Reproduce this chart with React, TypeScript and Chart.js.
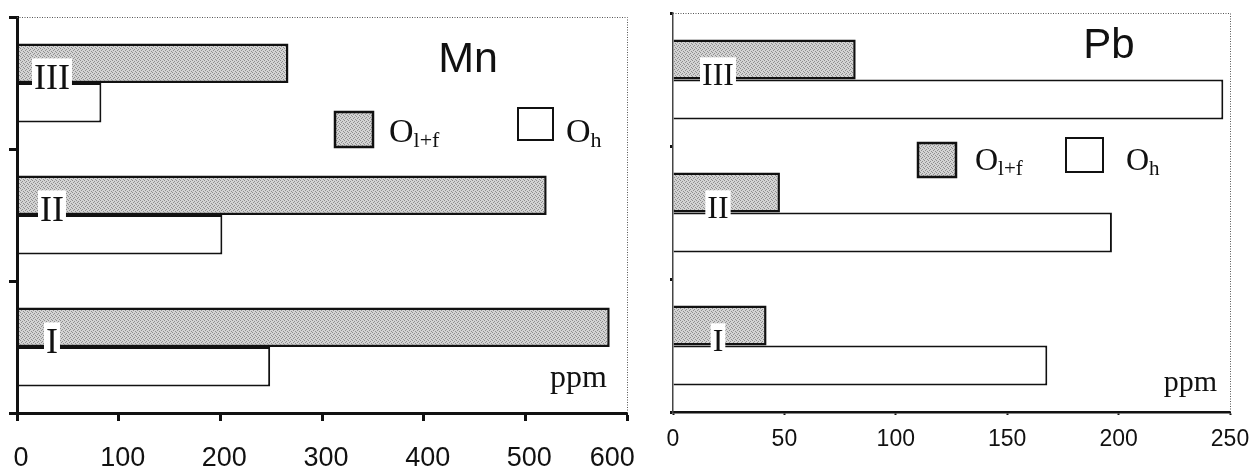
import React, { useEffect, useRef } from "react";
import { Chart, registerables } from "chart.js";

Chart.register(...registerables);

// ---- data ----
const categories = ["III", "II", "I"];
const seriesNames = ["O", "O"];
const seriesSubs = ["l+f", "h"];

const mnOlf = [267, 521, 583];
const mnOh = [83, 202, 249];
const pbOlf = [82, 48, 42];
const pbOh = [247, 197, 168];

const mnTickValues = [0, 100, 200, 300, 400, 500, 600];
const pbTickValues = [0, 50, 100, 150, 200, 250];

const mnTitle = "Mn";
const pbTitle = "Pb";
const unitLabel = "ppm";

function makeStipple(): CanvasPattern | string {
  const c = document.createElement("canvas");
  c.width = 4;
  c.height = 4;
  const g = c.getContext("2d");
  if (!g) return "#c4c4c4";
  g.fillStyle = "#d3d3d3";
  g.fillRect(0, 0, 4, 4);
  g.fillStyle = "#8e8e8e";
  [[0, 0], [2, 1], [1, 2], [3, 3]].forEach(([x, y]) => g.fillRect(x, y, 1, 1));
  return g.createPattern(c, "repeat") || "#c4c4c4";
}

function zeroPadding(s: any) {
  s.paddingTop = 0;
  s.paddingBottom = 0;
  s.paddingLeft = 0;
  s.paddingRight = 0;
}

const decorPlugin = {
  id: "decor",
  afterDraw(chart: any, _args: any, opts: any) {
    const ctx = chart.ctx as CanvasRenderingContext2D;
    const a = chart.chartArea;
    ctx.save();
    // dotted frame (top + right)
    ctx.strokeStyle = "#555";
    ctx.lineWidth = 1;
    ctx.setLineDash([1, 1.5]);
    ctx.beginPath();
    ctx.moveTo(a.left, a.top + 0.5);
    ctx.lineTo(a.right + 0.5, a.top + 0.5);
    ctx.lineTo(a.right + 0.5, a.bottom);
    ctx.stroke();
    ctx.setLineDash([]);

    // title
    ctx.fillStyle = "#111";
    ctx.textBaseline = "alphabetic";
    ctx.font = opts.titleFont;
    ctx.textAlign = "center";
    ctx.fillText(opts.title, opts.titleX, opts.titleY);

    // unit
    ctx.font = opts.unitFont;
    ctx.textAlign = "right";
    ctx.fillText(unitLabel, opts.unitX, opts.unitY);

    // legend
    chart.data.datasets.forEach((ds: any, i: number) => {
      const L = opts.legend[i];
      ctx.fillStyle = ds.backgroundColor;
      ctx.fillRect(L.x, L.y, L.w, L.h);
      ctx.strokeStyle = "#111";
      ctx.lineWidth = ds.borderWidth;
      ctx.strokeRect(L.x, L.y, L.w, L.h);
      ctx.fillStyle = "#111";
      ctx.textAlign = "left";
      ctx.font = opts.legendFont;
      ctx.fillText(seriesNames[i], L.tx, L.ty);
      const w = ctx.measureText(seriesNames[i]).width;
      ctx.font = opts.subFont;
      ctx.fillText(seriesSubs[i], L.tx + w, L.ty + opts.subDy);
    });
    ctx.restore();
  },
};

function buildConfig(p: any): any {
  const stipple = makeStipple();
  return {
    type: "bar",
    data: {
      labels: categories,
      datasets: [
        {
          label: seriesNames[0] + seriesSubs[0],
          data: p.olf,
          backgroundColor: stipple,
          borderColor: "#111",
          borderWidth: 2.5,
        },
        {
          label: seriesNames[1] + seriesSubs[1],
          data: p.oh,
          backgroundColor: "#ffffff",
          borderColor: "#111",
          borderWidth: 2,
        },
      ],
    },
    options: {
      indexAxis: "y",
      responsive: false,
      animation: false,
      devicePixelRatio: 1,
      categoryPercentage: 0.6,
      barPercentage: 1.0,
      layout: { padding: { left: 0, top: p.top, right: p.right, bottom: 0 } },
      scales: {
        x: {
          type: "linear",
          min: 0,
          max: p.ticks[p.ticks.length - 1],
          afterBuildTicks: (s: any) => {
            s.ticks = p.ticks.map((v: number) => ({ value: v }));
          },
          afterFit: (s: any) => {
            s.height = p.xHeight;
            zeroPadding(s);
          },
          grid: {
            drawOnChartArea: false,
            drawTicks: true,
            tickLength: p.xTickLen,
            tickWidth: p.xTickWidth,
            tickColor: "#111",
          },
          border: { display: true, width: p.xBorder, color: "#111", z: 2 },
          ticks: {
            autoSkip: false,
            maxRotation: 0,
            color: "#111",
            padding: p.xPad,
            labelOffset: p.xLabelOffset,
            font: { family: "'Liberation Sans', Arial, sans-serif", size: p.xFont },
            callback: (v: any, i: number, t: any[]) =>
              p.shiftLast && i === t.length - 1 ? `${v}     ` : `${v}`,
          },
        },
        y: {
          type: "category",
          afterFit: (s: any) => {
            s.width = p.yWidth;
            zeroPadding(s);
          },
          grid: {
            offset: true,
            drawOnChartArea: false,
            drawTicks: true,
            tickLength: p.yTickLen,
            tickWidth: 3,
            tickColor: "#111",
          },
          border: { display: true, width: p.yBorder, color: p.yBorderColor, z: 2 },
          ticks: {
            mirror: true,
            crossAlign: "center",
            padding: p.yPad,
            labelOffset: -3,
            z: 3,
            color: "#111",
            font: { family: "'Liberation Serif', 'Times New Roman', serif", size: p.yFont },
            showLabelBackdrop: true,
            backdropColor: "#ffffff",
            backdropPadding: { top: 0, bottom: 0, left: 2, right: 2 },
          },
        },
      },
      plugins: {
        legend: { display: false },
        tooltip: { enabled: false },
        title: { display: false },
        decor: p.decor,
      },
    },
    plugins: [decorPlugin],
  };
}

export default function App() {
  const leftRef = useRef<HTMLCanvasElement>(null);
  const rightRef = useRef<HTMLCanvasElement>(null);

  useEffect(() => {
    if (!leftRef.current || !rightRef.current) return;
    const left = new Chart(
      leftRef.current,
      buildConfig({
        olf: mnOlf,
        oh: mnOh,
        ticks: mnTickValues,
        top: 17,
        right: 1256 - 627,
        xHeight: 468 - 413,
        xTickLen: 8,
        xTickWidth: 3,
        xBorder: 3,
        xPad: 21,
        xLabelOffset: 4,
        xFont: 27,
        shiftLast: true,
        yWidth: 17,
        yTickLen: 8,
        yBorder: 3,
        yBorderColor: "#111",
        yPad: 17,
        yFont: 36,
        decor: {
          title: mnTitle,
          titleFont: "43px 'Liberation Sans', Arial, sans-serif",
          titleX: 468,
          titleY: 72,
          unitFont: "32px 'Liberation Serif', serif",
          unitX: 607,
          unitY: 387,
          legendFont: "34px 'Liberation Serif', serif",
          subFont: "22px 'Liberation Serif', serif",
          subDy: 5,
          legend: [
            { x: 335, y: 112, w: 38, h: 35, tx: 389, ty: 142 },
            { x: 518, y: 108, w: 35, h: 32, tx: 566, ty: 142 },
          ],
        },
      })
    );
    const right = new Chart(
      rightRef.current,
      buildConfig({
        olf: pbOlf,
        oh: pbOh,
        ticks: pbTickValues,
        top: 13,
        right: 1256 - 1230,
        xHeight: 468 - 412,
        xTickLen: 3,
        xTickWidth: 2,
        xBorder: 2.5,
        xPad: 11,
        xLabelOffset: 0,
        xFont: 23,
        shiftLast: false,
        yWidth: 673,
        yTickLen: 3,
        yBorder: 1.5,
        yBorderColor: "#444",
        yPad: 29,
        yFont: 32,
        decor: {
          title: pbTitle,
          titleFont: "42px 'Liberation Sans', Arial, sans-serif",
          titleX: 1109,
          titleY: 58,
          unitFont: "30px 'Liberation Serif', serif",
          unitX: 1217,
          unitY: 391,
          legendFont: "32px 'Liberation Serif', serif",
          subFont: "21px 'Liberation Serif', serif",
          subDy: 5,
          legend: [
            { x: 918, y: 143, w: 38, h: 34, tx: 975, ty: 170 },
            { x: 1066, y: 138, w: 37, h: 34, tx: 1126, ty: 170 },
          ],
        },
      })
    );
    return () => {
      left.destroy();
      right.destroy();
    };
  }, []);

  return (
    <div
      style={{
        position: "fixed",
        left: 0,
        top: 0,
        width: 1256,
        height: 468,
        background: "#ffffff",
      }}
    >
      <canvas
        ref={leftRef}
        width={1256}
        height={468}
        style={{ position: "absolute", left: 0, top: 0 }}
      />
      <canvas
        ref={rightRef}
        width={1256}
        height={468}
        style={{ position: "absolute", left: 0, top: 0 }}
      />
    </div>
  );
}
